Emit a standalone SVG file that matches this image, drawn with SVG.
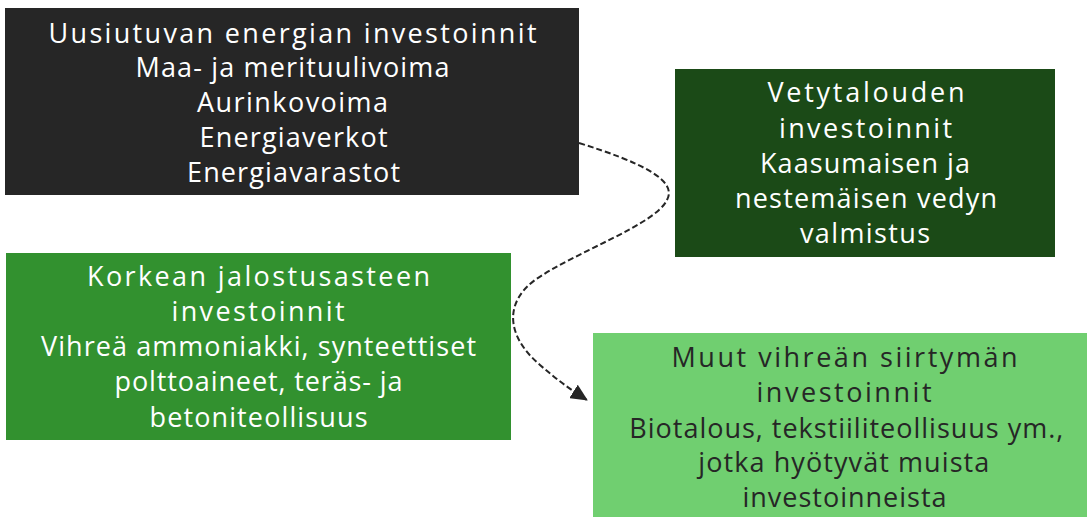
<svg xmlns="http://www.w3.org/2000/svg" width="1087" height="517" viewBox="0 0 1087 517">
<style>
text{font-family:"Open Sans","Liberation Sans",Arial,sans-serif;font-size:27px;text-anchor:middle}
.w{fill:#ffffff}
.d{fill:#262626}
.conn{fill:none;stroke:#262626;stroke-width:2;stroke-dasharray:6,3}
</style>
<defs>
<marker id="arrow" markerWidth="17" markerHeight="16" refX="16" refY="8" orient="auto" markerUnits="userSpaceOnUse">
<path d="M0,0 L17,8 L0,16 z" fill="#262626"/>
</marker>
</defs>
<g id="connectors">
<path class="conn" d="M579,143 C640,162 678,180 667,200 C655,225 575,252 535,280 C505,302 505,335 540,365 C555,378 568,388 587,400" marker-end="url(#arrow)"/>
</g>
<g id="node-uusiutuva">
<rect x="5" y="8" width="574" height="187" fill="#262626"/>
<text class="w" x="292.5" y="42.5" textLength="488" lengthAdjust="spacing">Uusiutuvan energian investoinnit</text>
<text class="w" x="292.5" y="77" textLength="314" lengthAdjust="spacing">Maa- ja merituulivoima</text>
<text class="w" x="292.5" y="112" textLength="191" lengthAdjust="spacing">Aurinkovoima</text>
<text class="w" x="293.5" y="147" textLength="188" lengthAdjust="spacing">Energiaverkot</text>
<text class="w" x="293.5" y="182" textLength="213" lengthAdjust="spacing">Energiavarastot</text>
</g>
<g id="node-vety">
<rect x="675" y="69" width="380" height="188" fill="#1b4a17"/>
<text class="w" x="866" y="102" textLength="197" lengthAdjust="spacing">Vetytalouden</text>
<text class="w" x="865.5" y="137.5" textLength="173" lengthAdjust="spacing">investoinnit</text>
<text class="w" x="865" y="172.5" textLength="210" lengthAdjust="spacing">Kaasumaisen ja</text>
<text class="w" x="866" y="207.5" textLength="262" lengthAdjust="spacing">nestemäisen vedyn</text>
<text class="w" x="865" y="243" textLength="130" lengthAdjust="spacing">valmistus</text>
</g>
<g id="node-jalostus">
<rect x="6" y="253" width="505" height="187" fill="#32912f"/>
<text class="w" x="258.5" y="286" textLength="343" lengthAdjust="spacing">Korkean jalostusasteen</text>
<text class="w" x="258" y="321" textLength="173" lengthAdjust="spacing">investoinnit</text>
<text class="w" x="258.5" y="356" textLength="435" lengthAdjust="spacing">Vihreä ammoniakki, synteettiset</text>
<text class="w" x="258.5" y="391" textLength="288" lengthAdjust="spacing">polttoaineet, teräs- ja</text>
<text class="w" x="258.5" y="426.5" textLength="218" lengthAdjust="spacing">betoniteollisuus</text>
</g>
<g id="node-muut">
<rect x="593" y="333" width="494" height="184" fill="#70cf70"/>
<text class="d" x="844.5" y="367" textLength="346" lengthAdjust="spacing">Muut vihreän siirtymän</text>
<text class="d" x="844" y="402" textLength="175" lengthAdjust="spacing">investoinnit</text>
<text class="d" x="846.3" y="437.5" textLength="434" lengthAdjust="spacing">Biotalous, tekstiiliteollisuus ym.,</text>
<text class="d" x="843.8" y="472" textLength="291" lengthAdjust="spacing">jotka hyötyvät muista</text>
<text class="d" x="844.5" y="507" textLength="204" lengthAdjust="spacing">investoinneista</text>
</g>
</svg>
